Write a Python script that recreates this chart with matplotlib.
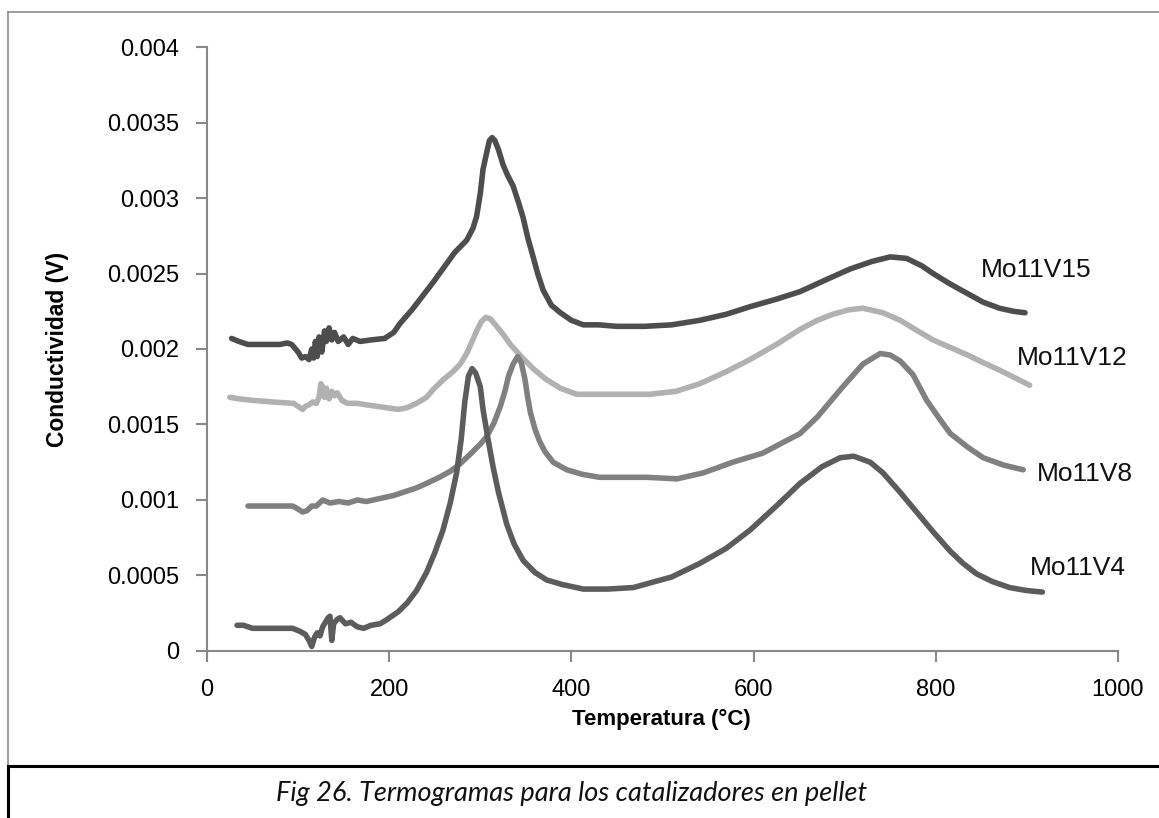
import matplotlib.pyplot as plt
from matplotlib.lines import Line2D

# Temperature (°C) and conductivity (V) readings for each pellet catalyst
t_v15 = [27, 35, 45, 60, 80, 88, 93, 100, 104, 108, 112, 115, 117, 119, 121, 123, 126, 129,
         131, 134, 137, 140, 144, 150, 155, 160, 168, 180, 195, 205, 212, 225, 234, 248, 260,
         272, 285, 292, 296, 300, 303, 307, 310, 313, 316, 320, 325, 330, 336, 342, 347, 352,
         358, 363, 369, 378, 388, 400, 413, 430, 450, 480, 510, 541, 570, 596, 625, 651, 680,
         706, 730, 750, 768, 785, 797, 816, 834, 852, 870, 885, 898]
v_v15 = [0.00207, 0.00205, 0.00203, 0.00203, 0.00203, 0.00204, 0.00203, 0.00198, 0.00194,
         0.00195, 0.00193, 0.00200, 0.00194, 0.00205, 0.00195, 0.00208, 0.00198, 0.00212,
         0.00205, 0.00214, 0.00206, 0.00211, 0.00205, 0.00208, 0.00203, 0.00207, 0.00205,
         0.00206, 0.00207, 0.00211, 0.00217, 0.00226, 0.00233, 0.00244, 0.00254, 0.00264,
         0.00272, 0.00280, 0.00288, 0.00303, 0.00319, 0.00330, 0.00338, 0.00340, 0.00338,
         0.00332, 0.00322, 0.00315, 0.00308, 0.00297, 0.00287, 0.00274, 0.00261, 0.00250,
         0.00239, 0.00229, 0.00224, 0.00219, 0.00216, 0.00216, 0.00215, 0.00215, 0.00216,
         0.00219, 0.00223, 0.00228, 0.00233, 0.00238, 0.00246, 0.00253, 0.00258, 0.00261,
         0.00260, 0.00255, 0.00250, 0.00243, 0.00237, 0.00231, 0.00227, 0.00225, 0.00224]

t_v12 = [25, 35, 50, 70, 95, 100, 105, 108, 112, 116, 120, 123, 125, 127, 129, 131, 134, 137,
         140, 143, 148, 154, 165, 175, 187, 198, 210, 219, 230, 241, 248, 260, 270, 278, 285,
         291, 296, 301, 306, 311, 318, 326, 333, 345, 358, 372, 388, 406, 430, 460, 486, 515,
         541, 570, 596, 625, 651, 670, 687, 705, 720, 742, 761, 780, 797, 816, 835, 852, 870,
         890, 903]
v_v12 = [0.00168, 0.00167, 0.00166, 0.00165, 0.00164, 0.00162, 0.00160, 0.00162, 0.00163,
         0.00165, 0.00164, 0.00168, 0.00177, 0.00175, 0.00168, 0.00174, 0.00167, 0.00172,
         0.00169, 0.00171, 0.00166, 0.00164, 0.00164, 0.00163, 0.00162, 0.00161, 0.00160,
         0.00161, 0.00164, 0.00168, 0.00173, 0.00180, 0.00185, 0.00190, 0.00197, 0.00205,
         0.00212, 0.00218, 0.00221, 0.00220, 0.00215, 0.00209, 0.00203, 0.00195, 0.00187,
         0.00180, 0.00174, 0.00170, 0.00170, 0.00170, 0.00170, 0.00172, 0.00177, 0.00185,
         0.00193, 0.00203, 0.00213, 0.00219, 0.00223, 0.00226, 0.00227, 0.00224, 0.00219,
         0.00212, 0.00206, 0.00201, 0.00196, 0.00191, 0.00186, 0.00180, 0.00176]

t_v8 = [45, 60, 80, 94, 100, 105, 110, 115, 120, 127, 135, 145, 155, 165, 175, 190, 205, 220,
        230, 241, 255, 267, 278, 290, 300, 307, 315, 322, 327, 331, 336, 341, 345, 349, 352,
        355, 360, 365, 371, 380, 395, 412, 431, 460, 483, 516, 545, 577, 610, 632, 651, 670,
        698, 720, 739, 750, 761, 775, 790, 805, 816, 835, 852, 875, 896]
v_v8 = [0.00096, 0.00096, 0.00096, 0.00096, 0.00094, 0.00092, 0.00093, 0.00096, 0.00096,
        0.00100, 0.00098, 0.00099, 0.00098, 0.00100, 0.00099, 0.00101, 0.00103, 0.00106,
        0.00108, 0.00111, 0.00115, 0.00119, 0.00124, 0.00131, 0.00137, 0.00142, 0.00151,
        0.00162, 0.00172, 0.00182, 0.00190, 0.00195, 0.00191, 0.00180, 0.00168, 0.00158,
        0.00147, 0.00139, 0.00132, 0.00125, 0.00120, 0.00117, 0.00115, 0.00115, 0.00115,
        0.00114, 0.00118, 0.00125, 0.00131, 0.00138, 0.00144, 0.00155, 0.00175, 0.00190,
        0.00197, 0.00196, 0.00192, 0.00183, 0.00166, 0.00153, 0.00144, 0.00135, 0.00128,
        0.00123, 0.00120]

t_v4 = [33, 40, 50, 70, 94, 102, 108, 112, 115, 118, 121, 124, 127, 130, 133, 135, 137, 139,
        143, 146, 152, 158, 165, 172, 180, 190, 198, 210, 220, 230, 241, 250, 259, 267, 274,
        279, 283, 287, 291, 295, 300, 303, 308, 314, 320, 329, 337, 347, 360, 373, 390, 413,
        440, 468, 486, 510, 541, 570, 596, 625, 651, 675, 695, 710, 728, 742, 761, 779, 797,
        816, 830, 845, 862, 881, 900, 917]
v_v4 = [0.00017, 0.00017, 0.00015, 0.00015, 0.00015, 0.00013, 0.00011, 0.00007, 0.00003,
        0.00009, 0.00012, 0.00010, 0.00016, 0.00019, 0.00022, 0.00023, 0.00007, 0.00018,
        0.00021, 0.00022, 0.00018, 0.00019, 0.00016, 0.00015, 0.00017, 0.00018, 0.00021,
        0.00026, 0.00032, 0.00040, 0.00052, 0.00065, 0.00080, 0.00098, 0.00118, 0.00140,
        0.00165, 0.00182, 0.00187, 0.00184, 0.00175, 0.00160, 0.00142, 0.00122, 0.00105,
        0.00084, 0.00071, 0.00060, 0.00052, 0.00047, 0.00044, 0.00041, 0.00041, 0.00042,
        0.00045, 0.00049, 0.00058, 0.00068, 0.00080, 0.00096, 0.00111, 0.00122, 0.00128,
        0.00129, 0.00125, 0.00118, 0.00105, 0.00092, 0.00079, 0.00066, 0.00058, 0.00051,
        0.00046, 0.00042, 0.00040, 0.00039]

names = ['Mo11V15', 'Mo11V12', 'Mo11V8', 'Mo11V4']
label_x = [850, 889, 911, 903]
label_y = [0.00252, 0.00194, 0.00117, 0.00055]

x_ticks = [0, 200, 400, 600, 800, 1000]
y_ticks = [0, 0.0005, 0.001, 0.0015, 0.002, 0.0025, 0.003, 0.0035, 0.004]

plt.rcParams['font.family'] = ['Liberation Sans', 'DejaVu Sans']

fig = plt.figure(figsize=(11.59, 8.18), dpi=100)
ax = fig.add_axes([0.1786, 0.2042, 0.786, 0.7383])

series = [(t_v15, v_v15, '#4d4d4d'), (t_v12, v_v12, '#b1b1b1'),
          (t_v8, v_v8, '#808080'), (t_v4, v_v4, '#5c5c5c')]
for t, v, c in series:
    ax.plot(t, v, color=c, lw=4.0, solid_capstyle='round', solid_joinstyle='round')

for name, lx, ly in zip(names, label_x, label_y):
    ax.text(lx, ly, name, fontsize=19, ha='left', va='center', color='#111111')

ax.set_xlim(0, 1000)
ax.set_ylim(0, 0.004)
ax.set_xticks(x_ticks)
ax.set_yticks(y_ticks)
ax.set_xticklabels([str(x) for x in x_ticks])
ax.set_yticklabels(['%g' % y for y in y_ticks])
ax.tick_params(axis='both', labelsize=17, color='#888888', length=8, width=1.5, pad=12)

for side in ['top', 'right']:
    ax.spines[side].set_visible(False)
for side in ['left', 'bottom']:
    ax.spines[side].set_color('#888888')
    ax.spines[side].set_linewidth(1.5)

fig.text(0.0500, 0.573, 'Conductividad (V)', rotation=90, fontsize=16.5, fontweight='bold',
         ha='center', va='center')
fig.text(0.571, 0.120, 'Temperatura (°C)', fontsize=16, fontweight='bold',
         ha='center', va='center')

# chart frame and caption box
fig.add_artist(Line2D([0.0069, 0.0069], [0.0636, 0.9853], color='#8c8c8c', lw=1.2))
fig.add_artist(Line2D([0.0069, 1.0], [0.9853, 0.9853], color='#8c8c8c', lw=1.2))
fig.add_artist(Line2D([0.0069, 1.0], [0.0636, 0.0636], color='black', lw=2.2))
fig.add_artist(Line2D([0.0069, 0.0069], [0.0, 0.0636], color='black', lw=2.2))

fig.text(0.493, 0.030, 'Fig 26. Termogramas para los catalizadores en pellet',
         fontsize=19.5, style='italic', family=['Lato', 'DejaVu Sans'],
         ha='center', va='center', color='#111111')

fig.savefig('out.png', dpi=100)
